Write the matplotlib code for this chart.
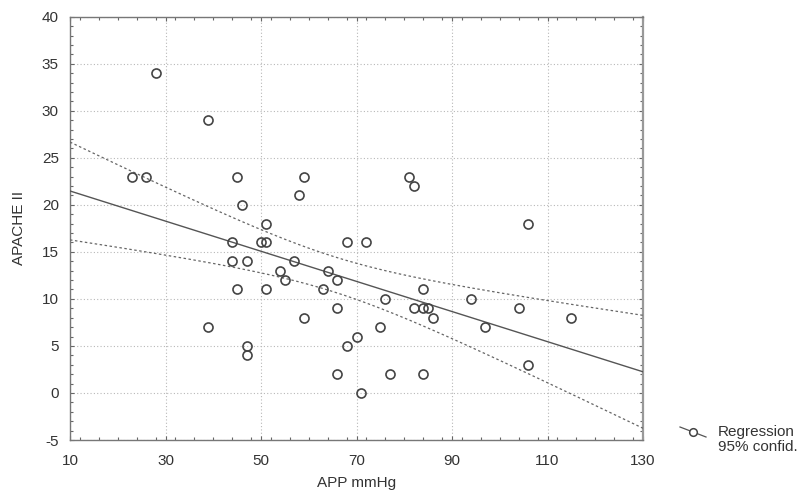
import numpy as np
import matplotlib
matplotlib.use("Agg")
import matplotlib.pyplot as plt
from matplotlib.lines import Line2D
from matplotlib.ticker import MultipleLocator

plt.rcParams['font.family'] = ['Liberation Sans', 'DejaVu Sans']
plt.rcParams['axes.unicode_minus'] = False

app = [28, 39, 23, 26, 45, 59, 81, 82, 58, 46, 51, 106, 44, 50, 51, 68, 72,
       57, 44, 47, 54, 64, 55, 66, 45, 51, 63, 84, 76, 94, 82, 84, 85, 66,
       104, 59, 86, 115, 39, 75, 97, 70, 47, 68, 47, 106, 66, 77, 84, 71]
apache = [34, 29, 23, 23, 23, 23, 23, 22, 21, 20, 18, 18, 16, 16, 16, 16, 16,
          14, 14, 14, 13, 13, 12, 12, 11, 11, 11, 11, 10, 10, 9, 9, 9, 9,
          9, 8, 8, 8, 7, 7, 7, 6, 5, 5, 4, 3, 2, 2, 2, 0]

x_ticks = [10, 30, 50, 70, 90, 110, 130]
y_ticks = [-5, 0, 5, 10, 15, 20, 25, 30, 35, 40]

x = np.array(app, float)
y = np.array(apache, float)
n = len(x)
slope, intercept = np.polyfit(x, y, 1)
resid = y - (intercept + slope * x)
s = np.sqrt(np.sum(resid**2) / (n - 2))
sxx = np.sum((x - x.mean())**2)
t = 2.0106
xs = np.linspace(10, 130, 200)
yhat = intercept + slope * xs
half = t * s * np.sqrt(1.0 / n + (xs - x.mean())**2 / sxx)

fig = plt.figure(figsize=(8.09, 4.95), dpi=100)
ax = fig.add_axes([70/809, 1-440/495, (643-70)/809, (440-16.7)/495])

ax.grid(True, color='#b8b8b8', linestyle=(0, (1, 2)), linewidth=0.8)
ax.set_axisbelow(True)

ax.plot(xs, yhat, color='#555555', lw=1.0, zorder=3)
ax.plot(xs, yhat + half, color='#666666', lw=0.9, ls=(0, (2, 2)), zorder=3)
ax.plot(xs, yhat - half, color='#666666', lw=0.9, ls=(0, (2, 2)), zorder=3)
ax.plot(x, y, 'o', mfc='none', mec='#444444', mew=1.2, ms=6.5, zorder=4)

ax.set_xlim(10, 130)
ax.set_ylim(-5, 40)
ax.set_xticks(x_ticks)
ax.set_yticks(y_ticks)
ax.xaxis.set_minor_locator(MultipleLocator(4))
ax.yaxis.set_minor_locator(MultipleLocator(1))
ax.tick_params(which='both', direction='in', top=True, right=True,
               color='#666666', labelcolor='#333333', labelsize=11)
ax.tick_params(which='major', length=3, width=0.8)
ax.tick_params(which='minor', length=2.5, width=0.8)
ax.tick_params(axis='x', which='major', pad=10)
ax.tick_params(axis='y', which='major', pad=8)
for sp in ax.spines.values():
    sp.set_color('#777777')
    sp.set_linewidth(1.0)
ax.spines['right'].set_linewidth(1.6)
ax.spines['right'].set_color('#999999')

fig.text(357/809, 1-483/495, 'APP mmHg', ha='center', va='center',
         fontsize=11, color='#333333')
fig.text(19/809, 1-228/495, 'APACHE II', ha='center', va='center',
         rotation=90, fontsize=11, color='#333333')

# legend
lx0, ly0, lx1, ly1 = 680, 427, 706, 437
fig.add_artist(Line2D([lx0/809, lx1/809], [1-ly0/495, 1-ly1/495],
                      transform=fig.transFigure, color='#555555', lw=0.9))
fig.add_artist(Line2D([(lx0+lx1)/2/809], [1-(ly0+ly1)/2/495],
                      transform=fig.transFigure, marker='o', mfc='white',
                      mec='#444444', mew=1.1, ms=5.5, ls='none'))
fig.text(718/809, 1-432/495, 'Regression', ha='left', va='center',
         fontsize=11, color='#333333')
fig.text(718/809, 1-447/495, '95% confid.', ha='left', va='center',
         fontsize=11, color='#333333')

fig.savefig('out.png', dpi=100)
